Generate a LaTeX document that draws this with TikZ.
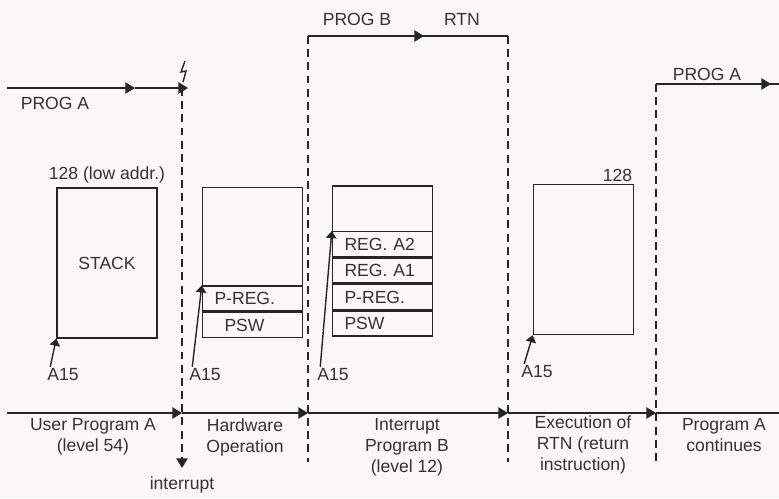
\documentclass[tikz,border=0pt]{standalone}
\usepackage{fontspec}
\setmainfont{Liberation Sans}
\usetikzlibrary{arrows.meta,positioning}
\definecolor{paper}{RGB}{249,248,244}

\begin{document}
\begin{tikzpicture}[
    x=0.02cm, y=-0.02cm,
    ink/.style={draw=black!85, line width=0.8pt},
    txt/.style={text=black!80, font=\fontsize{10}{12}\selectfont, inner sep=1pt},
    stackbox/.style={txt, ink, minimum width=2cm, minimum height=3cm, inner sep=0pt},
    cell/.style={txt, ink, minimum width=2cm, minimum height=0.5cm, text width=1.52cm, inner xsep=0.24cm, inner ysep=0pt, align=left},
    note/.style={txt, align=center},
    dashline/.style={draw=black!85, line width=0.8pt, dash pattern=on 4.5pt off 3pt},
    flow/.style={ink, -{Triangle[width=6.5pt,length=5.5pt]}},
    ptr/.style={ink, -{Triangle[width=6pt,length=4pt]}}
]

% Page
\fill[paper] (0,0) rectangle (779,498);
\useasboundingbox (0,0) rectangle (779,498);

% Switch points
\coordinate (pa0) at (7,88);
\coordinate (pa1) at (135,88);
\coordinate (d1t) at (182,88);
\coordinate (d1b) at (182,468);
\coordinate (d2t) at (308,36);
\coordinate (d2b) at (308,462);
\coordinate (pb1) at (424,36);
\coordinate (d3t) at (508,36);
\coordinate (d3b) at (508,462);
\coordinate (d4t) at (656,84);
\coordinate (d4b) at (656,462);
\coordinate (pa2) at (771,84);
\coordinate (pa3) at (779,84);
\coordinate (tl0) at (7,413);
\coordinate (tl5) at (779,413);

% Program flow on top
\node[txt] (progA) at (55,103) {PROG A};
\node[txt] (progB) at (357,19) {PROG B};
\node[txt] (rtn) at (462,19) {RTN};
\node[txt] (progAc) at (707,74) {PROG A};

\draw[flow] (pa0) -- (pa1);
\draw[flow] (pa1) -- ([xshift=0.12cm]d1t);
\draw[ink] ([shift={(3,-27)}]d1t) -- ([shift={(-1,-16)}]d1t)
    -- ([shift={(4,-17)}]d1t) -- ([shift={(1,-6)}]d1t);
\draw[ink] (d2t) -- (pb1);
\draw[flow] ([xshift=-0.2cm]pb1) -- (pb1);
\draw[ink] (pb1) -- (d3t);
\draw[ink] (d4t) -- (pa3);
\draw[flow] ([xshift=-0.2cm]pa2) -- (pa2);

% Dashed switch lines
\draw[dashline, -{Triangle[width=6.5pt,length=5.5pt]}] (d1t) -- (d1b);
\draw[dashline] (d2t) -- (d2b);
\draw[dashline] (d3t) -- (d3b);
\draw[dashline] (d4t) -- (d4b);

% Time line
\draw[flow] (tl0) -- (d1t |- tl0);
\draw[flow] (d1t |- tl0) -- (d2t |- tl0);
\draw[flow] (d2t |- tl0) -- (d3t |- tl0);
\draw[flow] (d3t |- tl0) -- (d4t |- tl0);
\draw[ink] (d4t |- tl0) -- (tl5);

% Stack of program A
\node[stackbox] (stkA) at (107,263) {STACK};
\node[txt, above=1pt of stkA] (lowA) {128 (low addr.)};
\node[txt] (a15a) at (63,375) {A15};
\draw[ptr] ([xshift=0.1cm]a15a.north west) -- (stkA.south west);

% Stack after hardware operation
\node[stackbox] (stkH) at (252.5,262.5) {};
\node[cell, anchor=south] (hwPSW) at (stkH.south) {\hspace*{0.2cm}PSW};
\node[cell, above=0pt of hwPSW] (hwPREG) {P-REG.};
\node[txt] (a15h) at (205,375) {A15};
\draw[ptr] ([xshift=0.1cm]a15h.north west) -- (hwPREG.north west);

% Stack in program B
\node[stackbox] (stkB) at (382.5,261) {};
\node[cell, anchor=south] (bPSW) at (stkB.south) {PSW};
\node[cell, above=0pt of bPSW] (bPREG) {P-REG.};
\node[cell, above=0pt of bPREG] (bA1) {REG. A1};
\node[cell, above=0pt of bA1] (bA2) {REG. A2};
\node[txt] (a15b) at (333,375) {A15};
\draw[ptr] ([xshift=0.1cm]a15b.north west) -- (bA2.north west);

% Stack after RTN
\node[stackbox] (stkR) at (583.5,259.5) {};
\node[txt, anchor=south east] (lowR) at (stkR.north east) {128};
\node[txt] (a15r) at (537,372) {A15};
\draw[ptr] ([xshift=0.1cm]a15r.north west) -- (stkR.south west);

% Phases
\node[note] (phA) at (93,437) {User Program A\\(level 54)};
\node[note] (phH) at (245,437) {Hardware\\Operation};
\node[note] (phB) at (407,447) {Interrupt\\Program B\\(level 12)};
\node[note] (phR) at (583,445) {Execution of\\RTN (return\\instruction)};
\node[note] (phC) at (724,435) {Program A\\continues};
\node[txt] (intr) at (182,485) {interrupt};

\end{tikzpicture}
\end{document}
